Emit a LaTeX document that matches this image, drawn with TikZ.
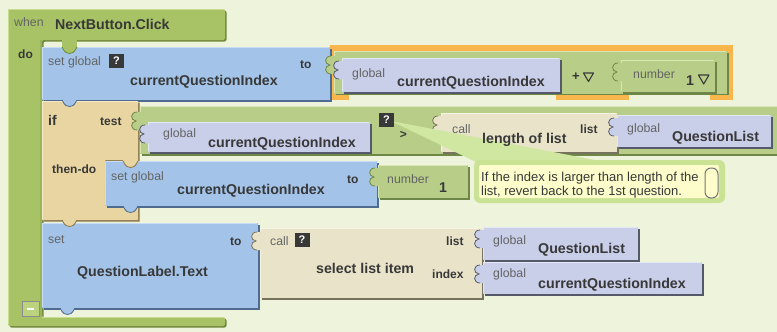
\documentclass[tikz,border=0pt]{standalone}
\usepackage{fontspec}
\setmainfont{Liberation Sans}
\definecolor{cBg}{HTML}{EEF3DC}
\definecolor{cEv}{HTML}{A7C365}
\definecolor{cEvD}{HTML}{6F893B}
\definecolor{cEvL}{HTML}{C9DD8F}
\definecolor{cBl}{HTML}{A3C4E8}
\definecolor{cBlD}{HTML}{4F6B8D}
\definecolor{cBlL}{HTML}{C8DDF4}
\definecolor{cLv}{HTML}{C9CEE9}
\definecolor{cLvD}{HTML}{55596A}
\definecolor{cLvL}{HTML}{E4E7F6}
\definecolor{cMg}{HTML}{B8CE88}
\definecolor{cMgD}{HTML}{6E8646}
\definecolor{cMgL}{HTML}{D8E7B3}
\definecolor{cTn}{HTML}{E8D5A1}
\definecolor{cTnD}{HTML}{8A7649}
\definecolor{cTnL}{HTML}{F5E9C6}
\definecolor{cPt}{HTML}{E9E4C9}
\definecolor{cPtD}{HTML}{77725E}
\definecolor{cPtL}{HTML}{F7F3E2}
\definecolor{cOr}{HTML}{F8B64C}
\definecolor{cCmB}{HTML}{C9E294}
\definecolor{cCmY}{HTML}{FDFDCB}
\definecolor{cWg}{HTML}{CFE7A0}
\definecolor{cTx}{HTML}{383838}
\definecolor{cGy}{HTML}{646464}
% rectangular block body: fill, shade, light, x1, y1, x2, y2
\newcommand\brect[7]{%
  \fill[#2] ({#4+1.5},{#5+1.5}) rectangle ({#6+1.5},{#7+1.5});
  \fill[#1] (#4,#5) rectangle (#6,#7);
  \draw[#3, line width=1] ({#4+0.5},{#7-1}) -- ({#4+0.5},{#5+0.5}) -- ({#6-1},{#5+0.5});
}
% output plug on the left edge of a value block: fill, edge, x, y
\newcommand\ltab[4]{%
  \fill[#1] ({#3+1},{#4}) -- ({#3-3},{#4}) .. controls ({#3-10},{#4}) and ({#3-10},{#4+8.5}) .. ({#3-4},{#4+9})
    .. controls ({#3-10},{#4+9.5}) and ({#3-10},{#4+18}) .. ({#3-3},{#4+18}) -- ({#3+1},{#4+18}) -- cycle;
  \draw[#2, line width=0.8] ({#3-3},{#4}) .. controls ({#3-10},{#4}) and ({#3-10},{#4+8.5}) .. ({#3-4},{#4+9})
    .. controls ({#3-10},{#4+9.5}) and ({#3-10},{#4+18}) .. ({#3-3},{#4+18});
}
% statement tab hanging below a block: fill, edge, x, y
\newcommand\dtab[4]{%
  \fill[#1] (#3,{#4-1.5}) -- (#3,#4) .. controls ({#3+3},{#4+6}) and ({#3+5},{#4+6.5}) .. ({#3+7.5},{#4+6.5})
    .. controls ({#3+10},{#4+6.5}) and ({#3+12},{#4+6}) .. ({#3+15},#4) -- ({#3+15},{#4-1.5}) -- cycle;
  \draw[#2, line width=0.8] (#3,#4) .. controls ({#3+3},{#4+6}) and ({#3+5},{#4+6.5}) .. ({#3+7.5},{#4+6.5})
    .. controls ({#3+10},{#4+6.5}) and ({#3+12},{#4+6}) .. ({#3+15},#4);
}
\begin{document}
\begin{tikzpicture}[x=1pt,y=-1pt,
  lbl/.style={font=\fontsize{14.2}{16}\selectfont\bfseries, text=cTx, inner sep=0pt, anchor=base west},
  sml/.style={font=\fontsize{12.3}{14}\selectfont, text=cGy, inner sep=0pt, anchor=base west},
  kw/.style={font=\fontsize{12}{14}\selectfont\bfseries, text=cTx, inner sep=0pt, anchor=base west},
  cmt/.style={font=\fontsize{13}{15}\selectfont, text=cTx, inner sep=0pt, anchor=base west},
  qbox/.style={fill=black!78, text=white, font=\fontsize{11}{12}\selectfont\bfseries, inner sep=0pt, minimum width=15pt, minimum height=14pt},
  ddtri/.style={draw=cTx, line width=1.1, line join=round}]
\useasboundingbox (0,0) rectangle (777,332);
\clip (0,0) rectangle (777,332);
\fill[cBg] (0,0) rectangle (777,332);

% event handler frame
\fill[cEvD, shift={(1.5,1.5)}, rounded corners=2] (8,9) -- (225,9) -- (225,40) -- (42,40) -- (42,317) -- (225,317) -- (225,326) -- (8,326) -- cycle;
\fill[cEv, rounded corners=2] (8,9) -- (225,9) -- (225,40) -- (42,40) -- (42,317) -- (225,317) -- (225,326) -- (8,326) -- cycle;
\fill[cEvD!25!cEv] (40,40) rectangle (42,317);
\draw[cEvL, line width=1] (8.5,324) -- (8.5,9.5) -- (224,9.5);
\draw[cEvL, line width=1] (42,317.5) -- (224,317.5);

% highlight round the addition block
\fill[cOr] (330,45) rectangle (733,100);
\fill[cBg] (349,95) rectangle (556,101);
\fill[cBg] (629,95) rectangle (710,101);

% set global currentQuestionIndex
\brect{cBl}{cBlD}{cBlL}{42}{47}{330}{100}
\fill[cEv] (62,39) rectangle (77,47);
\dtab{cEv}{cEvD}{62}{47}

% addition
\brect{cMg}{cMgD}{cMgL}{334}{51}{727}{93.5}
\ltab{cMg}{cMgD}{334}{56}
\brect{cLv}{cLvD}{cLvL}{342}{58}{560}{92}
\ltab{cLv}{cLvD}{342}{61}
\brect{cMg}{cMgD}{cMgL}{621}{60}{715}{92}
\ltab{cMg}{cMgD}{621}{63}

% if / then-do
\fill[cTnD, shift={(1.5,1.5)}] (42,101) -- (138,101) -- (138,160) -- (105,160) -- (105,206) -- (138,206) -- (138,220) -- (42,220) -- cycle;
\fill[cTn] (42,101) -- (138,101) -- (138,160) -- (105,160) -- (105,206) -- (138,206) -- (138,220) -- (42,220) -- cycle;
\draw[cTnL, line width=1] (42.5,219) -- (42.5,101.5) -- (137,101.5);
\dtab{cBl}{cBlD}{62}{100}

% comparison
\brect{cMg}{cMgD}{cMgL}{140}{106}{790}{154}
\ltab{cMg}{cMgD}{140}{112}
\brect{cLv}{cLvD}{cLvL}{148}{122}{370}{152}
\ltab{cLv}{cLvD}{148}{125}
\brect{cPt}{cPtD}{cPtL}{441}{113}{617}{152}
\ltab{cPt}{cPtD}{441}{116}
\brect{cLv}{cLvD}{cLvL}{617}{115}{771}{147}
\ltab{cLv}{cLvD}{617}{118}

% then-do: set global currentQuestionIndex to 1
\brect{cBl}{cBlD}{cBlL}{105}{161}{377}{206}
\dtab{cTn}{cTnD}{123}{161}
\brect{cMg}{cMgD}{cMgL}{378}{165}{468}{198}
\ltab{cMg}{cMgD}{378}{168}
\dtab{cBl}{cBlD}{123}{206}

% set QuestionLabel.Text
\brect{cBl}{cBlD}{cBlL}{42}{223}{258}{308}
\dtab{cTn}{cTnD}{62}{220}
\dtab{cBl}{cBlD}{60}{308}
\brect{cPt}{cPtD}{cPtL}{260}{228}{482}{298}
\ltab{cPt}{cPtD}{260}{232}
\brect{cLv}{cLvD}{cLvL}{483}{227}{638}{260}
\ltab{cLv}{cLvD}{483}{230}
\brect{cLv}{cLvD}{cLvL}{483}{262}{702}{294}
\ltab{cLv}{cLvD}{483}{265}

% collapse button
\fill[cEvL!60!cEv] (22,301) rectangle (39,316);
\draw[black!45, line width=0.9] (22,301) rectangle (39,316);
\fill[white] (27,307.6) rectangle (34,309.6);

% comment bubble
\fill[cWg] (391,121) -- (600,161) -- (478,163) -- cycle;
\fill[cCmB, rounded corners=6] (474,160) rectangle (725,203);
\fill[cCmY, rounded corners=2] (479,165) rectangle (719,198);
\draw[black!55, line width=1, fill=cCmY, rounded corners=6] (705,168) rectangle (718,198);

% texts
\node[sml] (tWhen) at (14,26.5) {when};
\node[lbl] (tEvent) at (55,30) {NextButton.Click};
\node[kw] (tDo) at (18,58) {do};
\node[sml] (tSet1) at (48,65) {set global};
\node[qbox] (q1) at (116.5,61) {?};
\node[lbl] (tVar1) at (130,85) {currentQuestionIndex};
\node[kw] (tTo1) at (300,68) {to};
\node[sml] (tGl1) at (352,77) {global};
\node[lbl] (tVar2) at (397,86) {currentQuestionIndex};
\node[kw, font=\fontsize{13}{14}\selectfont\bfseries] (tPlus) at (572,80.5) {+};
\draw[ddtri] (583.5,73) -- (593.5,73) -- (588.5,81.5) -- cycle;
\node[sml] (tNum1) at (633,78) {number};
\node[lbl] (tOne1) at (686,85) {1};
\draw[ddtri] (698.5,75) -- (709,75) -- (703.7,84) -- cycle;

\node[kw, font=\fontsize{14}{16}\selectfont\bfseries] (tIf) at (48,125) {if};
\node[kw] (tTest) at (100,125) {test};
\node[kw] (tThen) at (52,173) {then-do};
\node[sml] (tGl2) at (163,137) {global};
\node[lbl] (tVar3) at (208,147) {currentQuestionIndex};
\node[qbox] (q2) at (386.5,120) {?};
\node[kw, anchor=center] (tGt) at (403.5,135) {>};
\node[sml] (tCall1) at (452,133) {call};
\node[lbl] (tLen) at (482,143) {length of list};
\node[kw] (tList1) at (580,133) {list};
\node[sml] (tGl3) at (627,132) {global};
\node[lbl] (tQL1) at (672,141) {QuestionList};
\node[cmt] (tCm1) at (481,181) {If the index is larger than length of the};
\node[cmt] (tCm2) at (481,195) {list, revert back to the 1st question.};

\node[sml] (tSet2) at (111,180) {set global};
\node[lbl] (tVar4) at (177,194) {currentQuestionIndex};
\node[kw] (tTo2) at (347,183) {to};
\node[sml] (tNum2) at (387,183) {number};
\node[lbl] (tOne2) at (439,192) {1};

\node[sml] (tSet3) at (48,243) {set};
\node[lbl] (tLabel) at (77,276) {QuestionLabel.Text};
\node[kw] (tTo3) at (230,245) {to};
\node[sml] (tCall2) at (270,245) {call};
\node[qbox] (q3) at (302,240) {?};
\node[lbl] (tSel) at (316,273) {select list item};
\node[kw] (tList2) at (446,245) {list};
\node[kw] (tIdx) at (432,278) {index};
\node[sml] (tGl4) at (493,244) {global};
\node[lbl] (tQL2) at (538,253) {QuestionList};
\node[sml] (tGl5) at (493,277) {global};
\node[lbl] (tVar5) at (538,288) {currentQuestionIndex};
\end{tikzpicture}
\end{document}
